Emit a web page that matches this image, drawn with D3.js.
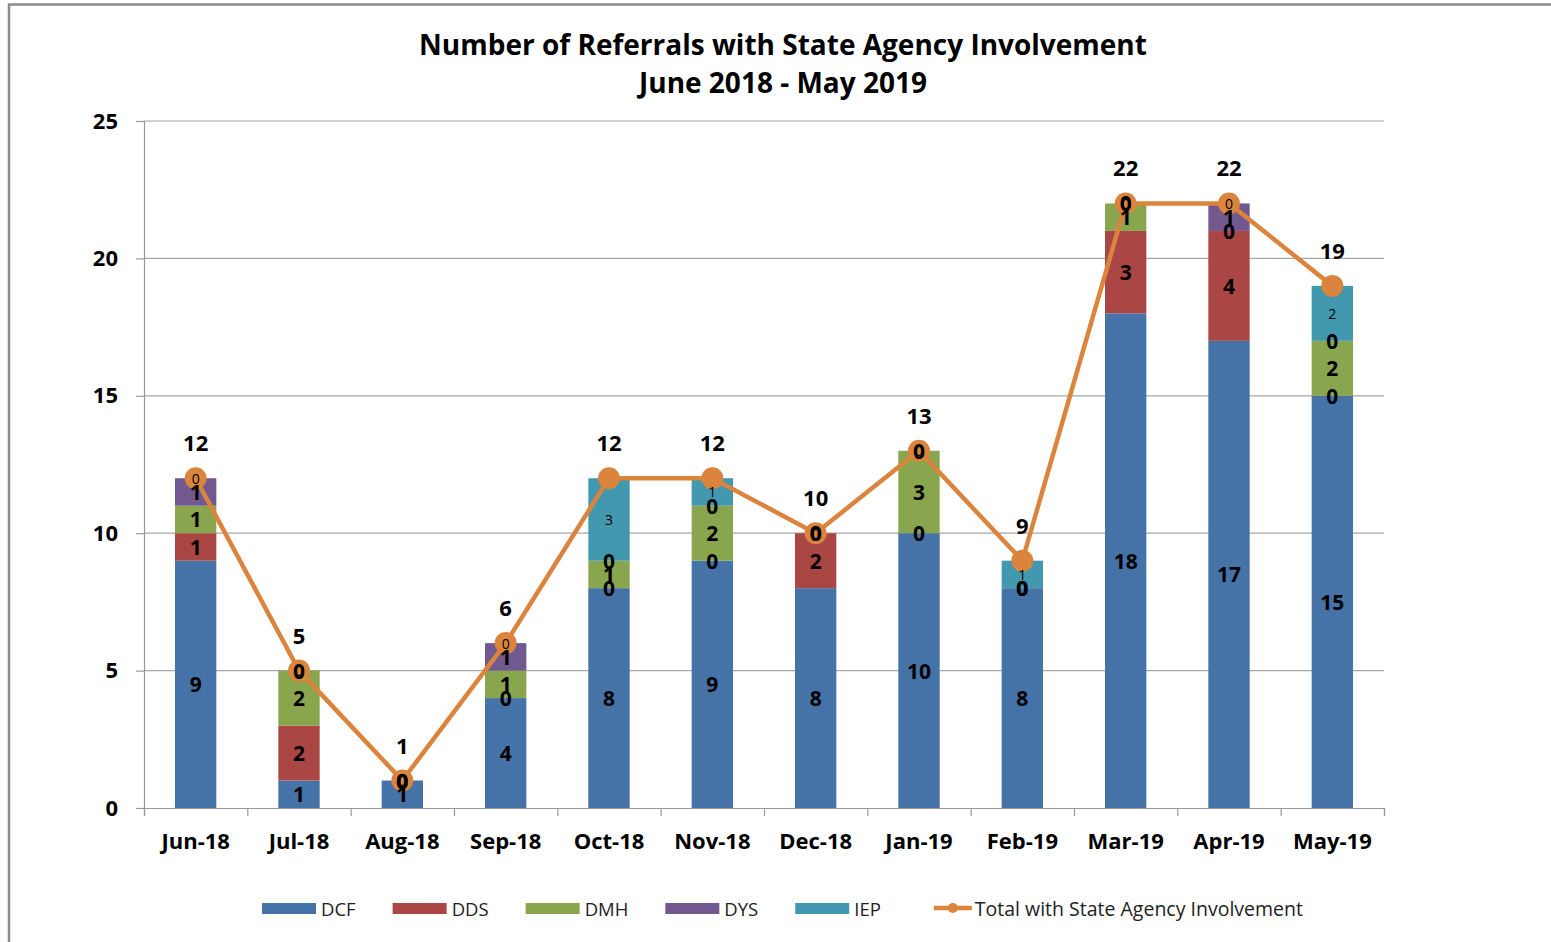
<!DOCTYPE html>
<html><head><meta charset="utf-8">
<script src="https://cdn.jsdelivr.net/npm/d3@7"></script>
<style>body{margin:0;background:#fff} svg{display:block}</style>
</head><body><svg id="c" width="1551" height="942"></svg>
<script>
const months = ["Jun-18","Jul-18","Aug-18","Sep-18","Oct-18","Nov-18","Dec-18","Jan-19","Feb-19","Mar-19","Apr-19","May-19"];
const dcf = [9,1,1,4,8,9,8,10,8,18,17,15];
const dds = [1,2,0,0,0,0,2,0,0,3,4,0];
const dmh = [1,2,0,1,1,2,0,3,0,1,0,2];
const dys = [1,0,0,1,0,0,0,0,0,0,1,0];
const iep = [0,0,0,0,3,1,0,0,1,0,0,2];
const totals = [12,5,1,6,12,12,10,13,9,22,22,19];
const seriesNames = ["DCF","DDS","DMH","DYS","IEP"];
const seriesColors = ["#4572A7","#AA4643","#89A54E","#71588F","#4198AF"];
const lineName = "Total with State Agency Involvement";
const lineColor = "#DB843D";
const yTicks = [0,5,10,15,20,25];
const titleLines = ["Number of Referrals with State Agency Involvement","June 2018 - May 2019"];

const FONT = "'Open Sans', sans-serif";
const svg = d3.select("#c");
svg.style("font-family", FONT);

// border
svg.append("path").attr("d","M9,942 V4.5 H1551").attr("fill","none").attr("stroke","#8c8c8c").attr("stroke-width",2.5);

const L=144, R=1384, T=121, B=808;
const x = d3.scaleBand().domain(months).range([L,R]).paddingInner(0.6).paddingOuter(0.3);
const xEdge = d3.scaleLinear().domain([0,months.length]).range([L,R]);
const y = d3.scaleLinear().domain([0,25]).range([B,T]);

// gridlines
svg.append("g").selectAll("line").data(yTicks.filter(d=>d>0)).join("line")
  .attr("x1",L).attr("x2",R).attr("y1",d=>y(d)).attr("y2",d=>y(d))
  .attr("stroke","#a6a6a6").attr("stroke-width",1.2);

// y axis
const ya = svg.append("g").attr("transform",`translate(${L},0)`)
  .call(d3.axisLeft(y).tickValues(yTicks).tickSize(8).tickPadding(18).tickFormat(d3.format("d")));
ya.select(".domain").attr("stroke","#999").attr("stroke-width",1.2);
ya.selectAll(".tick line").attr("stroke","#999").attr("stroke-width",1.2);
ya.selectAll(".tick text").attr("font-size",22).attr("font-weight","bold").attr("fill","#000").style("font-family",FONT);

// x axis ticks at boundaries
const xe = svg.append("g").attr("transform",`translate(0,${B})`)
  .call(d3.axisBottom(xEdge).tickValues(d3.range(0,months.length+1)).tickSize(8).tickFormat(""));
xe.select(".domain").attr("stroke","#999").attr("stroke-width",1.2);
xe.selectAll(".tick line").attr("stroke","#999").attr("stroke-width",1.2);
// x labels
const xl = svg.append("g").attr("transform",`translate(0,${B})`)
  .call(d3.axisBottom(x).tickSize(0).tickPadding(25));
xl.select(".domain").remove();
xl.selectAll(".tick text").attr("font-size",22).attr("font-weight","bold").attr("fill","#000").style("font-family",FONT);

// stacked data
const table = months.map((m,i)=>({month:m, DCF:dcf[i], DDS:dds[i], DMH:dmh[i], DYS:dys[i], IEP:iep[i]}));
const stacked = d3.stack().keys(seriesNames)(table);

svg.append("g").selectAll("g").data(stacked).join("g")
  .attr("fill",(d,i)=>seriesColors[i])
  .selectAll("rect").data(d=>d).join("rect")
  .attr("x",d=>x(d.data.month)).attr("width",x.bandwidth())
  .attr("y",d=>y(d[1])).attr("height",d=>y(d[0])-y(d[1]));

// line
const cx = m=>x(m)+x.bandwidth()/2;
svg.append("path").datum(totals)
  .attr("d",d3.line().x((d,i)=>cx(months[i])).y(d=>y(d)))
  .attr("fill","none").attr("stroke",lineColor).attr("stroke-width",4.5).attr("stroke-linejoin","round");
svg.append("g").selectAll("circle").data(totals).join("circle")
  .attr("cx",(d,i)=>cx(months[i])).attr("cy",d=>y(d)).attr("r",11).attr("fill",lineColor);

// segment labels
stacked.forEach((s,si)=>{
  const small = s.key==="IEP";
  svg.append("g").selectAll("text").data(s).join("text")
    .attr("x",d=>cx(d.data.month)).attr("y",d=>y((d[0]+d[1])/2))
    .attr("text-anchor","middle").attr("dominant-baseline","central")
    .attr("font-size",small?14:21).attr("font-weight",small?"normal":"bold").attr("fill","#000")
    .text(d=>d.data[s.key]);
});

// total labels
svg.append("g").selectAll("text").data(totals).join("text")
  .attr("x",(d,i)=>cx(months[i])).attr("y",d=>y(d)-36)
  .attr("text-anchor","middle").attr("dominant-baseline","central")
  .attr("font-size",22).attr("font-weight","bold").attr("fill","#000")
  .text(d=>d);

// title
svg.append("g").selectAll("text").data(titleLines).join("text")
  .attr("x",783).attr("y",(d,i)=>44+i*38)
  .attr("text-anchor","middle").attr("dominant-baseline","central")
  .attr("font-size",28).attr("font-weight","bold").attr("fill","#000")
  .text(d=>d);

// legend
const legendItems = seriesNames.map((n,i)=>({name:n,color:seriesColors[i],type:"bar"})).concat([{name:lineName,color:lineColor,type:"line"}]);
const lg = svg.append("g").attr("transform","translate(0,908)");
let lx = 262;
legendItems.forEach((it,i)=>{
  if(it.type==="line") lx += 16;
  const g = lg.append("g").attr("transform",`translate(${lx},0)`);
  if(it.type==="bar"){
    g.append("rect").attr("x",0).attr("y",-5).attr("width",54).attr("height",11).attr("fill",it.color);
  } else {
    g.append("line").attr("x1",0).attr("x2",38).attr("y1",0).attr("y2",0).attr("stroke",it.color).attr("stroke-width",4.5);
    g.append("circle").attr("cx",19).attr("cy",0).attr("r",5).attr("fill",it.color);
  }
  const off = it.type==="bar"?59:41;
  const t = g.append("text").attr("x",off).attr("y",0).attr("dominant-baseline","central")
    .attr("font-size",it.type==="line"?19.5:18.5).attr("fill","#222").text(it.name);
  lx += off + t.node().getComputedTextLength() + 37;
});
</script></body></html>
